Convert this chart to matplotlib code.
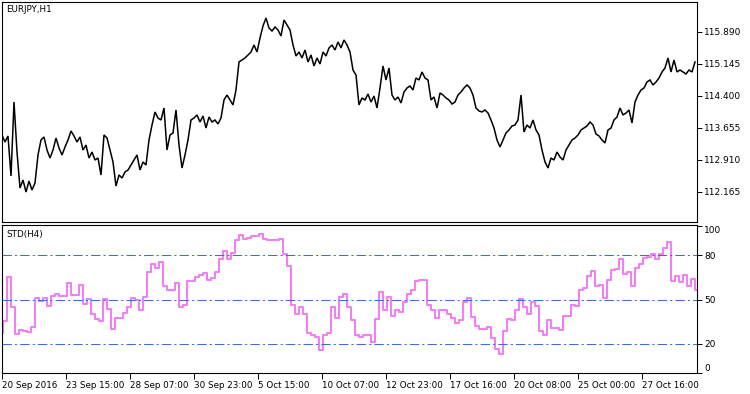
import numpy as np
import matplotlib
matplotlib.use("Agg")
import matplotlib.pyplot as plt

symbol_title = "EURJPY,H1"
indicator_title = "STD(H4)"

price = [
    113.485, 113.322, 113.462, 112.531, 114.253, 113.089, 112.251, 112.438, 112.158, 112.414,
    112.205, 112.368, 113.020, 113.369, 113.439, 113.136, 112.950, 113.136, 113.415, 113.183,
    113.020, 113.206, 113.369, 113.578, 113.462, 113.322, 113.439, 113.136, 113.252, 112.950,
    113.089, 112.903, 112.950, 112.554, 113.485, 113.415, 113.136, 112.857, 112.298, 112.554,
    112.484, 112.624, 112.670, 112.787, 112.903, 113.020, 112.670, 112.857, 112.787, 113.369,
    113.718, 114.021, 113.881, 113.834, 114.114, 113.136, 113.485, 113.532, 114.067, 113.252,
    112.717, 113.020, 113.369, 113.834, 113.881, 113.951, 113.788, 113.928, 113.648, 113.904,
    113.788, 113.834, 113.741, 113.881, 114.300, 114.416, 114.300, 114.184, 114.533, 115.185,
    115.231, 115.278, 115.348, 115.417, 115.580, 115.417, 115.743, 116.023, 116.209, 115.976,
    115.906, 115.999, 115.930, 115.790, 116.162, 116.046, 115.930, 115.580, 115.324, 115.417,
    115.278, 115.464, 115.185, 115.348, 115.092, 115.278, 115.138, 115.417, 115.324, 115.511,
    115.580, 115.464, 115.650, 115.511, 115.697, 115.580, 115.417, 114.998, 114.882, 114.184,
    114.347, 114.300, 114.440, 114.253, 114.393, 114.114, 114.579, 115.092, 114.766, 115.045,
    114.416, 114.300, 114.370, 114.230, 114.486, 114.579, 114.626, 114.533, 114.812, 114.766,
    114.952, 114.812, 114.766, 114.300, 114.370, 114.114, 114.463, 114.416, 114.347, 114.300,
    114.207, 114.253, 114.416, 114.486, 114.579, 114.649, 114.579, 114.416, 114.114, 114.044,
    114.021, 114.067, 113.997, 113.834, 113.648, 113.369, 113.206, 113.369, 113.532, 113.602,
    113.695, 113.718, 113.834, 114.416, 113.555, 113.718, 113.648, 113.834, 113.602, 113.485,
    113.136, 112.857, 112.717, 112.950, 112.903, 113.089, 112.973, 112.903, 113.136, 113.252,
    113.369, 113.415, 113.485, 113.602, 113.648, 113.695, 113.788, 113.718, 113.508, 113.462,
    113.369, 113.299, 113.602, 113.648, 113.834, 113.904, 114.114, 113.951, 113.997, 114.067,
    113.765, 114.253, 114.416, 114.533, 114.579, 114.719, 114.766, 114.649, 114.719, 114.812,
    114.952, 115.045, 115.278, 114.952, 115.231, 114.952, 114.998, 114.952, 114.905, 114.998,
    114.952, 115.185,
]
price_bars_per_sample = 3

# STD(H4) value for each H4 bar
std_h4 = [
    27.3, 35.2, 65.3, 44.7, 26.8, 29.5, 28.8, 27.7, 31.3, 51.0,
    48.8, 51.0, 45.8, 52.1, 54.0, 52.6, 52.6, 61.2, 53.3, 53.3,
    60.1, 47.2, 50.3, 40.4, 37.0, 35.2, 50.6, 43.6, 30.2, 37.4,
    37.4, 40.8, 44.9, 51.0, 49.5, 43.1, 51.7, 68.4, 74.1, 71.4,
    75.5, 59.4, 56.2, 56.2, 61.2, 44.7, 46.5, 62.3, 62.8, 65.3,
    66.9, 68.0, 63.5, 64.6, 68.7, 77.5, 83.1, 77.7, 81.6, 90.2,
    93.6, 91.3, 91.7, 92.9, 92.9, 94.7, 91.3, 90.2, 90.2, 90.2,
    91.3, 81.1, 72.5, 46.5, 40.4, 44.9, 40.2, 27.3, 26.1, 24.3,
    15.9, 26.1, 27.3, 44.7, 37.4, 51.7, 54.0, 44.9, 35.9, 25.7,
    24.5, 26.1, 26.1, 21.2, 37.0, 54.9, 43.1, 51.7, 39.0, 42.6,
    41.3, 48.3, 54.0, 56.7, 62.3, 63.0, 63.5, 46.0, 43.1, 37.4,
    43.1, 43.1, 40.2, 37.4, 34.0, 35.9, 48.1, 51.0, 38.1, 31.8,
    30.0, 30.2, 31.1, 23.9, 16.6, 12.6, 28.8, 37.0, 36.3, 43.1,
    50.6, 44.7, 40.4, 48.1, 45.4, 28.4, 26.1, 35.9, 30.7, 30.7,
    29.1, 38.6, 38.6, 46.5, 45.8, 56.7, 57.8, 66.2, 69.1, 58.9,
    60.1, 51.0, 63.5, 70.2, 70.9, 77.5, 67.3, 68.4, 59.4, 71.4,
    74.1, 78.2, 78.8, 80.9, 77.7, 80.9, 85.0, 88.8, 62.8, 65.7,
    61.6, 66.4, 59.4, 64.1, 56.7,
]
h1_per_h4 = 4
first_h4_offset = -3

date_labels = ["20 Sep 2016", "23 Sep 15:00", "28 Sep 07:00", "30 Sep 23:00",
               "5 Oct 15:00", "10 Oct 07:00", "12 Oct 23:00", "17 Oct 16:00",
               "20 Oct 08:00", "25 Oct 00:00", "27 Oct 16:00"]
bars_per_label = 64
price_ticks = [112.165, 112.910, 113.655, 114.400, 115.145, 115.890]
level_values = [80, 50, 20]
std_ticks = [0, 20, 50, 80, 100]

W, H = 750, 394
fig = plt.figure(figsize=(W / 100, H / 100), dpi=100)
fig.patch.set_facecolor("white")

ax1 = fig.add_axes([2 / W, 1 - 222 / H, 695 / W, 220 / H])
ax2 = fig.add_axes([2 / W, 1 - 373 / H, 695 / W, 148 / H])

fs = 6.3
for ax in (ax1, ax2):
    ax.set_xlim(0, 695)
    for s in ax.spines.values():
        s.set_linewidth(0.8)
        s.set_color("black")
    ax.yaxis.tick_right()
    ax.tick_params(axis="y", direction="out", length=3.5, width=0.7, labelsize=6.5,
                   pad=1.5, colors="black")

# price panel
xp = np.arange(len(price)) * price_bars_per_sample
ax1.plot(xp, price, color="black", lw=1.1, solid_joinstyle="miter")
ax1.set_ylim(111.460, 116.581)
ax1.set_yticks(price_ticks)
ax1.set_yticklabels([f"{v:.3f}" for v in price_ticks])
ax1.set_xticks([])

# STD panel
xs = np.arange(len(std_h4) + 1) * h1_per_h4 + first_h4_offset
ys = list(std_h4) + [std_h4[-1]]
ax2.plot(xs, ys, drawstyle="steps-post", color="#EE82EE", lw=1.5)
for lv in level_values:
    ax2.axhline(lv, color="#4169E1", lw=0.75, linestyle=(0, (9, 3, 2, 3)))
ax2.set_ylim(0.3, 100.7)
ax2.set_yticks(std_ticks)
labels = ax2.set_yticklabels([str(v) for v in std_ticks])
labels[0].set_va("bottom")
labels[-1].set_va("top")

ax2.set_xticks(np.arange(len(date_labels)) * bars_per_label)
ax2.set_xticklabels(date_labels, ha="left")
ax2.tick_params(axis="x", direction="out", length=4, width=0.7, labelsize=fs, pad=1.5)

fig.text(6 / W, 1 - 9.5 / H, symbol_title, fontsize=fs, va="center", ha="left")
fig.text(6 / W, 1 - 235 / H, indicator_title, fontsize=fs, va="center", ha="left")

fig.savefig("out.png", dpi=100, facecolor="white")
